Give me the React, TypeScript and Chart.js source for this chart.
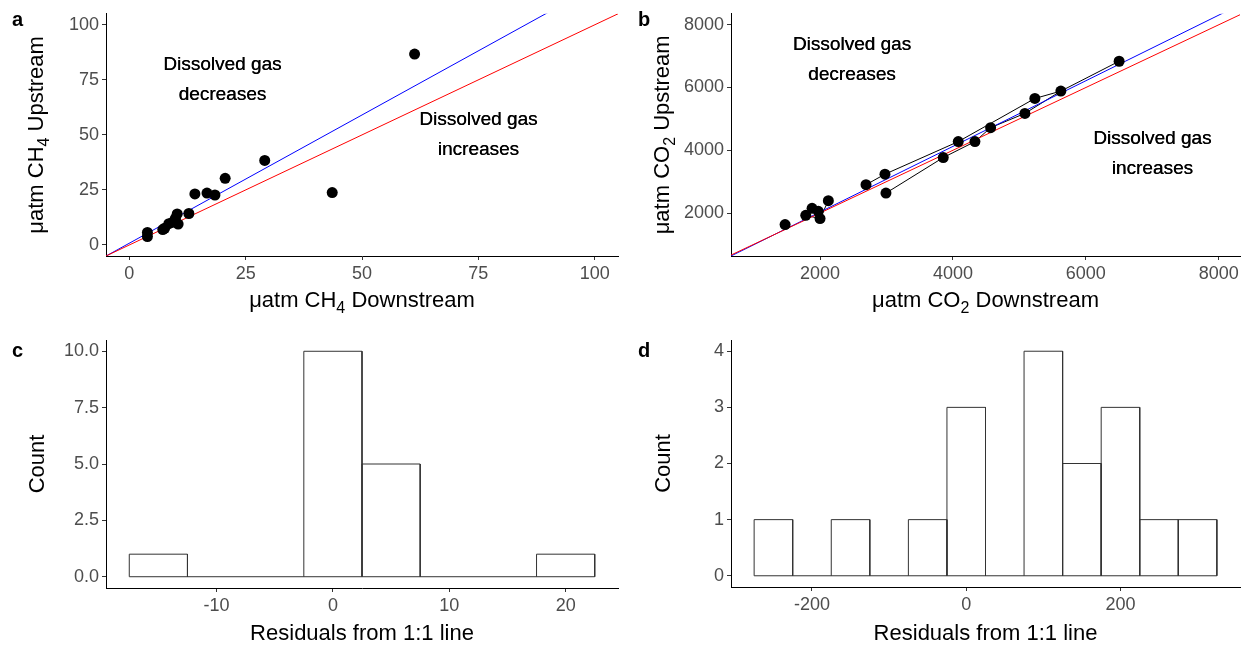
import React, { useEffect, useRef } from 'react';
import { Chart, registerables } from 'chart.js';

Chart.register(...registerables);

const FONT = '"Liberation Sans", Arial, Helvetica, sans-serif';

// ---------- Panel a: CH4 ----------
const ch4Down = [3.9, 3.9, 7.2, 7.6, 8.5, 9.3, 9.9, 10.3, 10.5, 12.8, 14.1, 16.7, 18.4, 20.6, 29.1, 43.6, 61.3];
const ch4Up = [5.7, 3.8, 7.0, 7.6, 9.7, 10.3, 12.1, 14.1, 9.5, 14.3, 23.2, 23.6, 22.7, 30.3, 38.4, 23.8, 86.7];
const ch4Limits = [-5, 105];
const ch4Ticks = [0, 25, 50, 75, 100];
const ch4Fit = [0.8, 1.165]; // intercept, slope (blue)
const oneToOne = [0, 1]; // intercept, slope (red)
const ch4NoteX = [20, 75];
const ch4NoteY = [75, 50];
const ch4NoteText = [['Dissolved gas', 'decreases'], ['Dissolved gas', 'increases']];

// ---------- Panel b: CO2 ----------
const co2Down = [1474, 1785, 2000, 1974, 2125, 1880, 2692, 2977, 2992, 3854, 4080, 4331, 4567, 5083, 5233, 5624, 6501];
const co2Up = [1632, 1927, 1822, 2054, 2394, 2150, 2902, 3238, 2635, 3768, 4276, 4276, 4721, 5175, 5651, 5886, 6838];
const co2Paths = [[6, 7, 10, 14, 15, 16], [8, 9, 11, 12, 13, 15], [1, 2, 4]];
const co2XLimits = [660, 8320];
const co2YLimits = [630, 8350];
const co2Ticks = [2000, 4000, 6000, 8000];
const co2Fit = [-60, 1.046];
const co2NoteX = [2480, 7000];
const co2NoteY = [6900, 3900];
const co2NoteText = [['Dissolved gas', 'decreases'], ['Dissolved gas', 'increases']];

// ---------- Panel c: CH4 residual histogram ----------
const ch4ResidBins = [-15, -10, -5, 0, 5, 10, 15, 20];
const ch4ResidCounts = [1, 0, 0, 10, 5, 0, 0, 1];
const ch4ResidLimits = [-19.5, 24.5];
const ch4ResidTicks = [-10, 0, 10, 20];
const ch4CountLimits = [-0.5, 10.5];
const ch4CountTicks = [0, 2.5, 5, 7.5, 10];

// ---------- Panel d: CO2 residual histogram ----------
const co2ResidBins = [-250, -200, -150, -100, -50, 0, 50, 100, 150, 200, 250, 300];
const co2ResidCounts = [1, 0, 1, 0, 1, 3, 0, 4, 2, 3, 1, 1];
const co2ResidLimits = [-305, 355];
const co2ResidTicks = [-200, 0, 200];
const co2CountLimits = [-0.2, 4.2];
const co2CountTicks = [0, 1, 2, 3, 4];

type Part = { t: string; sub?: boolean };
type Geom = { left: number; top: number; w: number; h: number; L: number; R: number; T: number; B: number };

const geomA: Geom = { left: 0, top: 0, w: 624, h: 324, L: 106, R: 618, T: 12, B: 256 };
const geomB: Geom = { left: 624, top: 0, w: 625, h: 324, L: 107, R: 616, T: 12, B: 256 };
const geomC: Geom = { left: 0, top: 324, w: 624, h: 324, L: 106, R: 618, T: 16, B: 264 };
const geomD: Geom = { left: 624, top: 324, w: 625, h: 324, L: 107, R: 616, T: 16, B: 263 };

function drawRich(ctx: CanvasRenderingContext2D, parts: Part[], size: number, x: number, y: number, rotate: boolean) {
  ctx.save();
  ctx.translate(x, y);
  if (rotate) ctx.rotate(-Math.PI / 2);
  const subSize = Math.round(size * 0.72);
  let total = 0;
  const widths = parts.map((p) => {
    ctx.font = `${p.sub ? subSize : size}px ${FONT}`;
    const w = ctx.measureText(p.t).width;
    total += w;
    return w;
  });
  let cx = -total / 2;
  ctx.textBaseline = 'alphabetic';
  ctx.textAlign = 'left';
  ctx.fillStyle = '#000';
  parts.forEach((p, i) => {
    ctx.font = `${p.sub ? subSize : size}px ${FONT}`;
    ctx.fillText(p.t, cx, p.sub ? size * 0.27 : 0);
    cx += widths[i];
  });
  ctx.restore();
}

type TextOpts = {
  letter: string;
  letterX: number;
  letterY: number;
  xTitle: Part[];
  xTitleY: number;
  yTitle: Part[];
  yTitleX: number;
  notes?: { x: number[]; y: number[]; text: string[][] };
};

function textPlugin(o: TextOpts) {
  return {
    id: 'panelText',
    afterDraw(chart: any) {
      const { ctx, chartArea, scales } = chart;
      ctx.save();
      ctx.font = `bold 20px ${FONT}`;
      ctx.fillStyle = '#000';
      ctx.textAlign = 'left';
      ctx.textBaseline = 'alphabetic';
      ctx.fillText(o.letter, o.letterX, o.letterY);
      drawRich(ctx, o.xTitle, 22, (chartArea.left + chartArea.right) / 2, o.xTitleY, false);
      drawRich(ctx, o.yTitle, 22, o.yTitleX, (chartArea.top + chartArea.bottom) / 2, true);
      if (o.notes) {
        ctx.font = `19px ${FONT}`;
        ctx.textAlign = 'center';
        ctx.textBaseline = 'middle';
        ctx.fillStyle = '#000';
        o.notes.x.forEach((xv, i) => {
          const px = scales.x.getPixelForValue(xv);
          const py = scales.y.getPixelForValue(o.notes!.y[i]);
          const lines = o.notes!.text[i];
          lines.forEach((ln, j) => {
            const yy = py + (j - (lines.length - 1) / 2) * 30;
            ctx.fillText(ln, px, yy);
            ctx.fillText(ln, px + 0.35, yy);
          });
        });
      }
      ctx.restore();
    },
  };
}

function axis(lim: number[], ticks: number[], g: Geom, isX: boolean, fmt: (v: number) => string) {
  return {
    type: 'linear',
    min: lim[0],
    max: lim[1],
    offset: false,
    afterBuildTicks: (s: any) => {
      s.ticks = ticks.map((v) => ({ value: v }));
    },
    afterFit: (s: any) => {
      if (isX) s.height = g.h - g.B;
      else s.width = g.L;
    },
    grid: { drawOnChartArea: false, drawTicks: true, tickLength: 4, color: '#333333', lineWidth: 1, offset: false },
    border: { display: true, color: '#000', width: 1 },
    ticks: {
      font: { family: FONT, size: 18 },
      color: '#4D4D4D',
      padding: 3,
      maxRotation: 0,
      minRotation: 0,
      autoSkip: false,
      callback: (v: any) => fmt(Number(v)),
    },
  };
}

function layoutFor(g: Geom) {
  return { padding: { left: 0, top: g.T, right: g.w - g.R, bottom: 0 } };
}

function scatterConfig(
  xs: number[], ys: number[], xLim: number[], yLim: number[], xTicks: number[], yTicks: number[],
  fit: number[], paths: number[][], g: Geom, text: TextOpts,
) {
  const abline = (coef: number[]) => [xLim[0], xLim[1]].map((x) => ({ x, y: coef[0] + coef[1] * x }));
  const datasets: any[] = [
    {
      type: 'scatter',
      data: xs.map((x, i) => ({ x, y: ys[i] })),
      backgroundColor: '#000',
      borderColor: '#000',
      borderWidth: 0,
      pointRadius: 5.5,
      order: 0,
    },
    {
      type: 'line',
      data: abline(oneToOne),
      borderColor: '#FF0000',
      borderWidth: 1,
      pointRadius: 0,
      order: 1,
    },
    {
      type: 'line',
      data: abline(fit),
      borderColor: '#0000FF',
      borderWidth: 1,
      pointRadius: 0,
      order: 2,
    },
  ];
  paths.forEach((p) => {
    datasets.push({
      type: 'line',
      data: p.map((i) => ({ x: xs[i], y: ys[i] })),
      borderColor: '#000',
      borderWidth: 1,
      pointRadius: 0,
      tension: 0,
      order: 3,
    });
  });
  return {
    type: 'scatter',
    data: { datasets },
    plugins: [textPlugin(text)],
    options: {
      responsive: false,
      animation: false,
      devicePixelRatio: 1,
      layout: layoutFor(g),
      plugins: { legend: { display: false }, tooltip: { enabled: false } },
      scales: {
        x: axis(xLim, xTicks, g, true, (v) => String(v)),
        y: axis(yLim, yTicks, g, false, (v) => String(v)),
      },
    },
  };
}

function histConfig(
  bins: number[], counts: number[], xLim: number[], yLim: number[], xTicks: number[], yTicks: number[],
  yFmt: (v: number) => string, g: Geom, text: TextOpts,
) {
  const bw = bins[1] - bins[0];
  // outline of every bin rectangle (ggplot-style: edges centred, shared edges single)
  const outline: any[] = [];
  bins.forEach((b, i) => {
    const c = counts[i];
    const x0 = b - bw / 2;
    const x1 = b + bw / 2;
    if (c > 0) {
      outline.push({ x: x0, y: 0 }, { x: x0, y: c }, { x: x1, y: c }, { x: x1, y: 0 }, { x: x1, y: null });
    }
  });
  return {
    type: 'bar',
    data: {
      datasets: [
        {
          type: 'bar',
          data: bins.map((b, i) => ({ x: b, y: counts[i] })),
          backgroundColor: '#FFFFFF',
          borderWidth: 0,
          barPercentage: 1,
          categoryPercentage: 1,
          order: 2,
        },
        {
          type: 'line',
          data: outline,
          borderColor: '#333333',
          borderWidth: 1,
          pointRadius: 0,
          spanGaps: false,
          tension: 0,
          order: 0,
        },
        {
          type: 'line',
          data: [
            { x: bins[0] - bw / 2, y: 0 },
            { x: bins[bins.length - 1] + bw / 2, y: 0 },
          ],
          borderColor: '#333333',
          borderWidth: 1,
          pointRadius: 0,
          order: 1,
        },
      ],
    },
    plugins: [textPlugin(text)],
    options: {
      responsive: false,
      animation: false,
      devicePixelRatio: 1,
      layout: layoutFor(g),
      plugins: { legend: { display: false }, tooltip: { enabled: false } },
      scales: {
        x: axis(xLim, xTicks, g, true, (v) => String(v)),
        y: axis(yLim, yTicks, g, false, yFmt),
      },
    },
  };
}

const geoms = [geomA, geomB, geomC, geomD];

export default function App() {
  const r0 = useRef<HTMLCanvasElement>(null);
  const r1 = useRef<HTMLCanvasElement>(null);
  const r2 = useRef<HTMLCanvasElement>(null);
  const r3 = useRef<HTMLCanvasElement>(null);
  const refs = [r0, r1, r2, r3];

  useEffect(() => {
    const configs: any[] = [
      scatterConfig(ch4Down, ch4Up, ch4Limits, ch4Limits, ch4Ticks, ch4Ticks, ch4Fit, [], geomA, {
        letter: 'a', letterX: 12, letterY: 26,
        xTitle: [{ t: 'μatm CH' }, { t: '4', sub: true }, { t: ' Downstream' }], xTitleY: 307,
        yTitle: [{ t: 'μatm CH' }, { t: '4', sub: true }, { t: ' Upstream' }], yTitleX: 43,
        notes: { x: ch4NoteX, y: ch4NoteY, text: ch4NoteText },
      }),
      scatterConfig(co2Down, co2Up, co2XLimits, co2YLimits, co2Ticks, co2Ticks, co2Fit, co2Paths, geomB, {
        letter: 'b', letterX: 14, letterY: 26,
        xTitle: [{ t: 'μatm CO' }, { t: '2', sub: true }, { t: ' Downstream' }], xTitleY: 307,
        yTitle: [{ t: 'μatm CO' }, { t: '2', sub: true }, { t: ' Upstream' }], yTitleX: 45,
        notes: { x: co2NoteX, y: co2NoteY, text: co2NoteText },
      }),
      histConfig(ch4ResidBins, ch4ResidCounts, ch4ResidLimits, ch4CountLimits, ch4ResidTicks, ch4CountTicks,
        (v) => v.toFixed(1), geomC, {
          letter: 'c', letterX: 12, letterY: 33,
          xTitle: [{ t: 'Residuals from 1:1 line' }], xTitleY: 316,
          yTitle: [{ t: 'Count' }], yTitleX: 44,
        }),
      histConfig(co2ResidBins, co2ResidCounts, co2ResidLimits, co2CountLimits, co2ResidTicks, co2CountTicks,
        (v) => String(v), geomD, {
          letter: 'd', letterX: 14, letterY: 33,
          xTitle: [{ t: 'Residuals from 1:1 line' }], xTitleY: 316,
          yTitle: [{ t: 'Count' }], yTitleX: 46,
        }),
    ];
    const charts = configs.map((c, i) => new Chart(refs[i].current as HTMLCanvasElement, c));
    return () => charts.forEach((c) => c.destroy());
  }, []);

  return (
    <div style={{ position: 'absolute', left: 0, top: 0, width: 1249, height: 648, background: '#fff' }}>
      {geoms.map((g, i) => (
        <canvas
          key={i}
          ref={refs[i]}
          width={g.w}
          height={g.h}
          style={{ position: 'absolute', left: g.left, top: g.top, width: g.w, height: g.h }}
        />
      ))}
    </div>
  );
}
